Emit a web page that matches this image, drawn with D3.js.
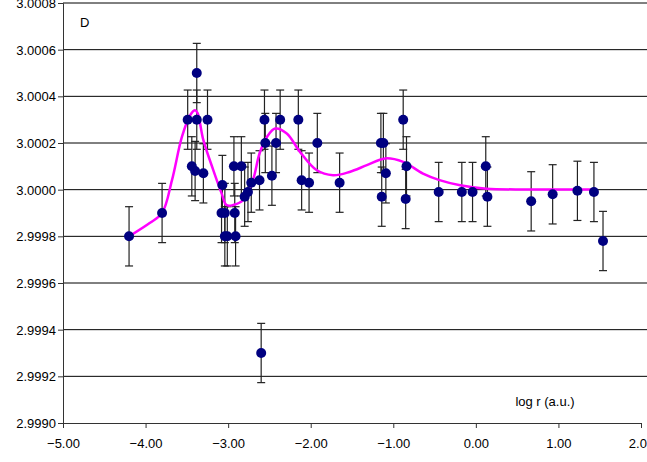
<!DOCTYPE html>
<html>
<head>
<meta charset="utf-8">
<script src="https://cdn.jsdelivr.net/npm/d3@7"></script>
<style>
  body { margin: 0; background: #fff; }
  svg text { font-family: "Liberation Sans", Arial, sans-serif; }
</style>
</head>
<body>
<div class="chart"></div>
<script>
// measured points (log r, value)
var pointX = [-4.20, -3.80, -3.49, -3.38, -3.38, -3.25, -3.44, -3.40, -3.30, -3.07,
  -3.08, -3.04, -2.92, -3.04, -3.01, -2.91, -2.93, -2.84, -2.80, -2.76,
  -2.72, -2.62, -2.56, -2.55, -2.47, -2.42, -2.37, -2.15, -2.11, -2.02,
  -1.92, -1.65, -1.15, -1.12, -1.14, -1.09, -0.88, -0.84, -0.85, -0.45,
  -0.17, -0.04, 0.12, 0.14, 0.67, 0.93, 1.23, 1.43, 1.54, -2.60];
var pointY = [2.99980, 2.99990, 3.00030, 3.00050, 3.00030, 3.00030, 3.00010, 3.00008, 3.00007, 3.00002,
  2.99990, 2.99990, 2.99990, 2.99980, 2.99980, 2.99980, 3.00010, 3.00010, 2.99997, 2.99999,
  3.00003, 3.00004, 3.00030, 3.00020, 3.00006, 3.00020, 3.00030, 3.00030, 3.00004, 3.00003,
  3.00020, 3.00003, 3.00020, 3.00020, 2.99997, 3.00007, 3.00030, 3.00010, 2.99996, 2.99999,
  2.99999, 2.99999, 3.00010, 2.99997, 2.99995, 2.99998, 2.999995, 2.99999, 2.99978, 2.99930];
var errBar = 0.000127;

// fitted curve
var curveX = [-4.20, -3.95, -3.80, -3.68, -3.56, -3.46, -3.40, -3.37, -3.30, -3.18,
  -3.08, -3.02, -2.94, -2.82, -2.70, -2.62, -2.53, -2.43, -2.29, -2.13,
  -1.93, -1.73, -1.53, -1.32, -1.10, -0.88, -0.64, -0.44, -0.19, 0.13, 0.60, 1.00, 1.44];
var curveY = [2.99980, 2.999857, 2.99990, 3.000041, 3.000226, 3.000319, 3.000340, 3.000328, 3.000212, 3.000084,
  2.999985, 2.999934, 2.999934, 2.999955, 3.000041, 3.000155, 3.000226, 3.000262, 3.000241, 3.000162,
  3.000084, 3.000062, 3.000076, 3.000105, 3.000134, 3.000119, 3.000069, 3.000041, 3.000019, 3.000004, 3.000001, 3.000001, 3.000001];

var xTicks = [-5, -4, -3, -2, -1, 0, 1, 2];
var yTicks = [2.9990, 2.9992, 2.9994, 2.9996, 2.9998, 3.0000, 3.0002, 3.0004, 3.0006, 3.0008];

var svgWidth = 647, svgHeight = 462;
var margin = { top: 3, right: 6, bottom: 39, left: 63 };
var chartWidth = svgWidth - margin.left - margin.right;
var chartHeight = svgHeight - margin.top - margin.bottom;

var svg = d3.select(".chart").append("svg")
  .attr("width", svgWidth)
  .attr("height", svgHeight);

var chartGroup = svg.append("g")
  .attr("transform", `translate(${margin.left}, ${margin.top})`);

var xScale = d3.scaleLinear().domain([-5, 2]).range([0, chartWidth]);
var yScale = d3.scaleLinear().domain([2.9990, 3.0008]).range([chartHeight, 0]);

// gridlines
chartGroup.selectAll("line.grid")
  .data(yTicks.slice(1))
  .enter().append("line")
  .attr("class", "grid")
  .attr("x1", 0).attr("x2", svgWidth - margin.left)
  .attr("y1", d => yScale(d)).attr("y2", d => yScale(d))
  .attr("stroke", "#000").attr("stroke-width", 1);

// axes
var bottomAxis = d3.axisBottom(xScale).tickValues(xTicks).tickFormat(d3.format(".2f")).tickSizeOuter(0).tickSize(5);
var leftAxis = d3.axisLeft(yScale).tickValues(yTicks).tickFormat(d3.format(".4f")).tickSizeOuter(0).tickSize(5);

var xg = chartGroup.append("g")
  .attr("transform", `translate(0, ${chartHeight})`)
  .call(bottomAxis);
var yg = chartGroup.append("g").call(leftAxis);

[xg, yg].forEach(function (g) {
  g.select(".domain").attr("stroke", "#333");
  g.selectAll(".tick line").attr("stroke", "#333");
  g.selectAll("text").attr("font-size", "13px").attr("fill", "#000")
    .style("font-family", "Liberation Sans, Arial, sans-serif");
});
xg.selectAll("text").attr("dy", "1.3em");
yg.selectAll("text").attr("x", -7).attr("dy", "0.35em");

// error bars
var idx = d3.range(pointX.length);
var eb = chartGroup.append("g").attr("stroke", "#222").attr("stroke-width", 1.2);
eb.selectAll("line.v").data(idx).enter().append("line")
  .attr("x1", i => xScale(pointX[i])).attr("x2", i => xScale(pointX[i]))
  .attr("y1", i => yScale(pointY[i] + errBar)).attr("y2", i => yScale(pointY[i] - errBar));
eb.selectAll("line.t").data(idx).enter().append("line")
  .attr("x1", i => xScale(pointX[i]) - 4).attr("x2", i => xScale(pointX[i]) + 4)
  .attr("y1", i => yScale(pointY[i] + errBar)).attr("y2", i => yScale(pointY[i] + errBar));
eb.selectAll("line.b").data(idx).enter().append("line")
  .attr("x1", i => xScale(pointX[i]) - 4).attr("x2", i => xScale(pointX[i]) + 4)
  .attr("y1", i => yScale(pointY[i] - errBar)).attr("y2", i => yScale(pointY[i] - errBar));

// fit curve
var line = d3.line()
  .x(i => xScale(curveX[i]))
  .y(i => yScale(curveY[i]))
  .curve(d3.curveCatmullRom.alpha(0.5));
chartGroup.append("path")
  .datum(d3.range(curveX.length))
  .attr("d", line)
  .attr("fill", "none")
  .attr("stroke", "#ff00ff")
  .attr("stroke-width", 2.5);

// points
chartGroup.selectAll("circle")
  .data(idx)
  .enter().append("circle")
  .attr("cx", i => xScale(pointX[i]))
  .attr("cy", i => yScale(pointY[i]))
  .attr("r", 5)
  .attr("fill", "#000080");

// labels
chartGroup.append("text")
  .attr("x", 17).attr("y", 24)
  .attr("font-size", "13px")
  .text("D");

chartGroup.append("text")
  .attr("x", 482).attr("y", 403)
  .attr("text-anchor", "middle")
  .attr("font-size", "13px")
  .text("log r (a.u.)");
</script>
</body>
</html>
